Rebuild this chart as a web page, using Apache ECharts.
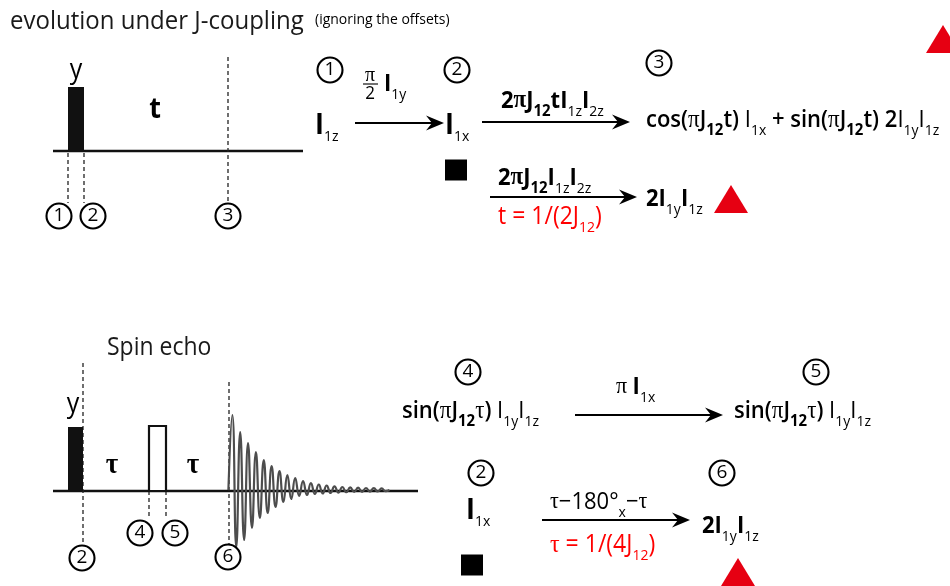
<!DOCTYPE html>
<html><head><meta charset="utf-8">
<script src="https://cdn.jsdelivr.net/npm/echarts@6/dist/echarts.min.js"></script>
<style>html,body{margin:0;padding:0;background:#fff}#c{width:950px;height:586px}</style>
</head><body><div id="c"></div>
<script>
const FONT = '"Open Sans", "Noto Sans", sans-serif';
const SERIF = '"Liberation Serif", "DejaVu Serif", serif';

// ---- diagram content (frame units: 950 x 586) ----
const baselines = [[53,151,303,151],[53,491,418,491]];
const dashedLines = [[68,153,68,203],[84,153,84,203],[228,57,228,204],[83,363,83,546],[149,491,149,518],[166,491,166,518],[229,382,229,545]];
const arrows = [[355,123,444,123],[482,122,630,122],[490,197,637,197],[575,415,723,415],[542,520,690,520]];
const fractionBars = [[363,84,378,84]];
const filledPulses = [[68,87,84,151],[68,427,83,491]];
const openPulses = [[149,426,166,491]];
const circleLabels = ['1','2','3','1','2','3','2','4','5','6','4','5','2','6'];
const circlePos = [[59,216],[93,216],[228,216],[330,70],[457,70],[659,63],[82,558],[140,533],[175,533],[228,557],[468,372],[816,372],[481,473],[722,473]];
const squares = [[456,170],[472,565]];
const triangles = [[943,39],[731,199],[738,572]];
// FID: successive extrema (amplitude above the acquisition baseline)
const fidAmplitude = [0,75,-57,58,-50,47,-38,38,-28,30,-23,24,-17,19,-12,15,-9,12,-6,9,-5,7,-4,5.5,-3.5,4.5,-3,3.6,-2.6,3,-2.2,2.6,-2,2.3,-1.8,2,-1.6,1.8,-1.5,1.6,-1.2,0];
const fidStart = 228.4, fidStep = 3.93, fidBase = 490;

const texts = [
  [10, 22, '{title|evolution under J-coupling}'],
  [315, 20, '{small|(ignoring the offsets)}'],
  [76, 70, '{lbl|y}', 'center'],
  [155, 110, '{tb|t}', 'center'],
  [107, 348, '{title2|Spin echo}'],
  [73, 404, '{lbl|y}', 'center'],
  [112, 465, '{tau|τ}', 'center'],
  [193, 465, '{tau|τ}', 'center'],
  [370, 75, '{pi16|π}', 'center'],
  [370, 94, '{n14|2}', 'center'],
  [384, 84, '{b|I}{s|1y}'],
  [315, 126, '{bI|I}{s|1z}'],
  [445, 126, '{bI|I}{s|1x}'],
  [501, 101, '{b|2}{bp|π}{b|J}{sb|12}{b|tI}{s|1z}{b|I}{s|2z}'],
  [646, 120, '{m|cos(}{mp|π}{m|J}{sb|12}{m|t) }{r|I}{s|1x}{m| + sin(}{mp|π}{m|J}{sb|12}{m|t) 2}{r|I}{s|1y}{r|I}{s|1z}'],
  [498, 178, '{b|2}{bp|π}{b|J}{sb|12}{b|I}{s|1z}{b|I}{s|2z}'],
  [498, 217, '{red|t = 1/(2J}{redS|12}{red|)}'],
  [646, 199, '{b|2I}{s|1y}{b|I}{s|1z}'],
  [402, 411, '{m|sin(}{mp|π}{m|J}{sb|12}{mp|τ}{m|) }{r|I}{s|1y}{r|I}{s|1z}'],
  [616, 387, '{pi|π }{b|I}{s|1x}'],
  [734, 411, '{m|sin(}{mp|π}{m|J}{sb|12}{mp|τ}{m|) }{r|I}{s|1y}{r|I}{s|1z}'],
  [466, 511, '{bI|I}{s|1x}'],
  [550, 502, '{rp|τ}{r|−180°}{s|x}{r|−}{rp|τ}'],
  [550, 545, '{redp|τ}{red| = 1/(4J}{redS|12}{red|)}'],
  [702, 526, '{b|2I}{s|1y}{b|I}{s|1z}']
];

const SUBPAD = [20,0,0,0];
const mk = (o) => Object.assign({fontFamily: FONT, fill: '#000', color: '#000'}, o);
const RICH = {
  title: mk({fontSize: 24, fill: '#1a1a1a'}),
  title2: mk({fontSize: 23, fill: '#1a1a1a'}),
  small: mk({fontSize: 14}),
  lbl: mk({fontSize: 25}),
  tb: mk({fontSize: 27, fontWeight: 700}),
  tau: mk({fontSize: 27, fontFamily: SERIF, fontWeight: 700}),
  pi16: mk({fontSize: 20, fontFamily: SERIF}),
  n14: mk({fontSize: 17}),
  b: mk({fontSize: 22, fontWeight: 700}),
  bp: mk({fontSize: 23, fontWeight: 700, fontFamily: SERIF}),
  bI: mk({fontSize: 27, fontWeight: 700}),
  m: mk({fontSize: 22, fontWeight: 600}),
  mp: mk({fontSize: 23, fontFamily: SERIF}),
  r: mk({fontSize: 22}),
  rp: mk({fontSize: 22, fontFamily: SERIF}),
  pi: mk({fontSize: 22, fontFamily: SERIF}),
  s: mk({fontSize: 14, padding: SUBPAD}),
  sb: mk({fontSize: 15, fontWeight: 700, padding: SUBPAD}),
  red: mk({fontSize: 23, fill: '#f00', color: '#f00'}),
  redp: mk({fontSize: 24, fontFamily: SERIF, fill: '#f00', color: '#f00'}),
  redS: mk({fontSize: 14, fill: '#f00', color: '#f00', padding: SUBPAD})
};

const segData = []
  .concat(baselines.map(s => s.concat(0)))
  .concat(dashedLines.map(s => s.concat(1)))
  .concat(arrows.map(s => s.concat(2)))
  .concat(fractionBars.map(s => s.concat(3)));
const rectData = filledPulses.map(r => r.concat(1)).concat(openPulses.map(r => r.concat(0)));
const fidData = fidAmplitude.map((a, i) => [fidStart + i * fidStep, fidBase - a]);

const chart = echarts.init(document.getElementById('c'), null, {renderer: 'canvas'});
chart.setOption({
  animation: false,
  backgroundColor: '#fff',
  grid: {left: 0, right: 0, top: 0, bottom: 0},
  xAxis: {type: 'value', min: 0, max: 950, show: false},
  yAxis: {type: 'value', min: 0, max: 586, inverse: true, show: false},
  series: [
    {
      type: 'custom', coordinateSystem: 'cartesian2d', data: segData, encode: {x: [0, 2], y: [1, 3]},
      renderItem: (params, api) => {
        const a = api.coord([api.value(0), api.value(1)]);
        const b = api.coord([api.value(2), api.value(3)]);
        const k = api.value(4);
        if (k === 0) return {type: 'line', shape: {x1: a[0], y1: a[1], x2: b[0], y2: b[1]}, style: {stroke: '#111', lineWidth: 2.7}};
        if (k === 1) return {type: 'line', shape: {x1: a[0], y1: a[1], x2: b[0], y2: b[1]}, style: {stroke: '#222', lineWidth: 1.3, lineDash: [4, 3]}};
        if (k === 3) return {type: 'line', shape: {x1: a[0], y1: a[1], x2: b[0], y2: b[1]}, style: {stroke: '#111', lineWidth: 1.2}};
        return {type: 'group', children: [
          {type: 'line', shape: {x1: a[0], y1: a[1], x2: b[0] - 10, y2: b[1]}, style: {stroke: '#000', lineWidth: 1.9}},
          {type: 'polygon', shape: {points: [[b[0], b[1]], [b[0] - 18, b[1] - 7.5], [b[0] - 12, b[1]], [b[0] - 18, b[1] + 7.5]]}, style: {fill: '#000'}}
        ]};
      }
    },
    {
      type: 'custom', coordinateSystem: 'cartesian2d', data: rectData, encode: {x: [0, 2], y: [1, 3]},
      renderItem: (params, api) => {
        const a = api.coord([api.value(0), api.value(1)]);
        const b = api.coord([api.value(2), api.value(3)]);
        const filled = api.value(4) === 1;
        return {type: 'rect', shape: {x: a[0], y: a[1], width: b[0] - a[0], height: b[1] - a[1]},
          style: filled ? {fill: '#111'} : {fill: '#fff', stroke: '#111', lineWidth: 2.2}};
      }
    },
    {
      type: 'line', data: fidData, smooth: 0.5, showSymbol: false, symbol: 'none',
      lineStyle: {color: '#4d4d4d', width: 2.2}, z: 3
    },
    {
      type: 'scatter', data: circlePos.map((p, i) => ({value: p, name: circleLabels[i]})),
      symbol: 'circle', symbolSize: 25, z: 4,
      itemStyle: {color: '#fff', borderColor: '#000', borderWidth: 2.1, opacity: 1},
      label: {show: true, position: 'inside', formatter: '{b}', fontSize: 19, color: '#000', fontFamily: FONT}
    },
    {
      type: 'scatter', data: squares, symbol: 'rect', symbolSize: [22, 21], itemStyle: {color: '#000', opacity: 1}, z: 4
    },
    {
      type: 'scatter', data: triangles, symbol: 'triangle', symbolSize: [34, 28], itemStyle: {color: '#e60012', opacity: 1}, z: 4
    },
    {
      type: 'custom', coordinateSystem: 'cartesian2d', data: texts.map(t => [t[0], t[1]]), z: 5,
      renderItem: (params, api) => {
        const t = texts[params.dataIndex];
        const p = api.coord([api.value(0), api.value(1)]);
        return {type: 'text', x: p[0], y: p[1], scaleY: 1.08, style: {text: t[2], rich: RICH, align: t[3] || 'left', verticalAlign: 'middle', fill: '#000', font: '20px ' + FONT}};
      }
    }
  ]
});
</script>
</body></html>
